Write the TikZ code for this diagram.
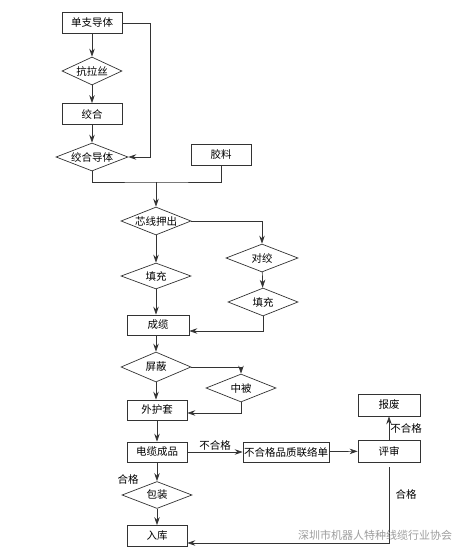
\documentclass[tikz,border=0pt]{standalone}
\usepackage{fontspec}
\setmainfont{Noto Sans CJK SC}
\usepackage{tikz}
\usetikzlibrary{arrows.meta, positioning, calc, shapes.geometric}
\definecolor{LineGray}{rgb}{0.2, 0.2, 0.2}
\definecolor{MarkGray}{rgb}{0.62, 0.62, 0.62}

\begin{document}
\begin{tikzpicture}[x=1pt, y=-1pt, >={Stealth[length=8pt, width=5.5pt]},
    line width=0.7pt, LineGray,
    font=\fontsize{10.5pt}{12pt}\selectfont,
    stepbox/.style={draw, rectangle, inner sep=0pt, minimum width=60pt, minimum height=21pt, text=black},
    choice/.style={draw, diamond, aspect=2.5, inner sep=0pt, minimum width=70pt, minimum height=28pt, text=black},
    tag/.style={text=black, inner sep=1pt}]
        \useasboundingbox [fill=white] (0,0) rectangle (466,555);

        % Conductor column
        \node [stepbox] (single) at (92,23) {单支导体};
        \node [choice, minimum width=60pt] (tensile) at (92,71) {抗拉丝};
        \node [stepbox] (twist) at (92,114) {绞合};
        \node [choice, minimum width=72pt] (strand) at (92,157) {绞合导体};
        \node [stepbox] (rubber) at (221,155) {胶料};

        % Main column
        \node [choice] (core) at (156,221) {芯线押出};
        \node [choice, minimum height=26pt] (fillL) at (156,276) {填充};
        \node [stepbox, minimum width=62pt, minimum height=20pt] (cable) at (158,325) {成缆};
        \node [choice, minimum height=30pt] (shield) at (156,367) {屏蔽};
        \node [stepbox, minimum height=20pt] (jacket) at (157,410) {外护套};
        \node [stepbox, minimum height=20pt] (product) at (157,452) {电缆成品};
        \node [choice, minimum height=27pt] (pack) at (157,495) {包装};
        \node [stepbox] (store) at (157,536) {入库};

        % Side branches
        \node [choice, minimum width=72pt] (pair) at (262,258) {对绞};
        \node [choice] (fillR) at (263,302) {填充};
        \node [choice] (inner) at (241,388) {中被};
        \node [stepbox, minimum width=86pt, minimum height=20pt] (report) at (286,452) {不合格品质联络单};
        \node [stepbox, minimum width=62pt, minimum height=22pt] (review) at (389,451) {评审};
        \node [stepbox, minimum width=62pt, minimum height=22pt] (scrap) at (389,405) {报废};

        % Conductor flow
        \draw [->] (single) -- (tensile);
        \draw [->] (tensile) -- (twist);
        \draw [->] (twist) -- (strand);
        \draw [->] (single.east) -- ++(28,0) |- (strand.east);

        % Join with rubber
        \coordinate (join) at (156,182);
        \draw (strand.south) |- (join) -| (rubber.south);
        \draw [->] (join) -- (core.north);

        % Core to cable
        \draw [->] (core) -- (fillL);
        \draw [->] (fillL.south) -- (fillL.south |- cable.north);
        \draw [->] (core.east) -| (pair.north);
        \draw [->] (pair) -- (fillR);
        \draw [->] (fillR.south) |- ([yshift=-6pt]cable.east);

        % Shield and jacket
        \draw [->] (cable.south -| shield.north) -- (shield.north);
        \draw [->] (shield.east) -| (inner.north);
        \draw [->] (shield) -- (shield.south |- jacket.north);
        \draw [->] (inner.south) |- ([yshift=-3pt]jacket.east);
        \draw [->] (jacket) -- (product);

        % Inspection
        \draw [->] (product) -- node [tag, above] {不合格} (report);
        \draw [->] (report) -- (review);
        \draw [->] (review) -- node [tag, right] {不合格} (scrap);
        \draw [->] (product) -- (pack);
        \node [tag] (passA) at (128,479) {合格};
        \draw [->] (pack) -- (store);
        \draw [->] ([yshift=-5pt]review.south) |- ([yshift=-7pt]store.east);
        \node [tag] (passB) at (406,494) {合格};

        % Watermark
        \node [MarkGray, font=\fontsize{11pt}{12pt}\selectfont] (mark) at (375,535) {深圳市机器人特种线缆行业协会};
    \end{tikzpicture}
\end{document}
